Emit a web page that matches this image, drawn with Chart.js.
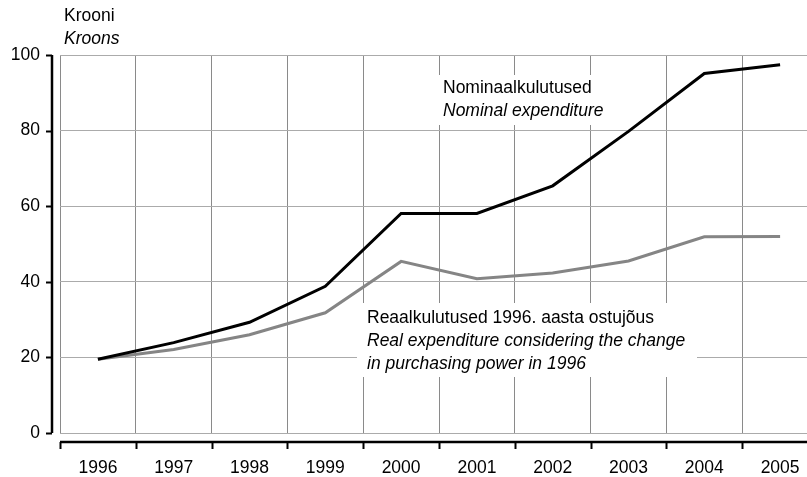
<!DOCTYPE html>
<html>
<head>
<meta charset="utf-8">
<script src="https://cdn.jsdelivr.net/npm/chart.js@4/dist/chart.umd.min.js"></script>
<style>
  html, body { margin: 0; padding: 0; background: #fff; overflow: hidden; }
  #wrap { width: 807px; height: 477px; overflow: hidden; }
</style>
</head>
<body>
<div id="wrap"><canvas id="graafik" width="840" height="477"></canvas></div>
<script>
// aastad ja kulutused (kroonides)
const aastad = ['1996', '1997', '1998', '1999', '2000', '2001', '2002', '2003', '2004', '2005'];
const nominaal = [19.5, 23.9, 29.3, 38.8, 58.1, 58.1, 65.4, 79.8, 95.1, 97.4];
const reaal = [19.5, 22.1, 26.0, 31.8, 45.4, 40.8, 42.3, 45.5, 51.9, 52.0];
const yTikid = [0, 20, 40, 60, 80, 100];

const FONT = '"Liberation Sans", Arial, sans-serif';
const SUURUS = 17.5;

// teljed, tiitel ja sildid
const lisad = {
  id: 'lisad',
  beforeDatasetsDraw(chart) {
    const ctx = chart.ctx;
    const ca = chart.chartArea;
    const xs = chart.scales.x, ys = chart.scales.y;
    ctx.save();

    // valged kastid siltide all
    ctx.fillStyle = '#fff';
    ctx.fillRect(437, 75, 170, 50);
    ctx.fillRect(357, 303, 340, 74);

    ctx.fillStyle = '#000';
    ctx.textBaseline = 'middle';
    ctx.textAlign = 'left';
    ctx.font = SUURUS + 'px ' + FONT;
    ctx.fillText('Nominaalkulutused', 443, 88);
    ctx.fillText('Reaalkulutused 1996. aasta ostujõus', 367, 318);
    ctx.font = 'italic ' + SUURUS + 'px ' + FONT;
    ctx.fillText('Nominal expenditure', 443, 111);
    ctx.fillText('Real expenditure considering the change', 367, 341);
    ctx.fillText('in purchasing power in 1996', 367, 364);
    ctx.restore();
  },
  afterDraw(chart) {
    const ctx = chart.ctx;
    const ca = chart.chartArea;
    const xs = chart.scales.x, ys = chart.scales.y;
    ctx.save();
    ctx.strokeStyle = '#000';

    // y-telg
    const yx = ca.left - 8;
    ctx.lineWidth = 2.5;
    ctx.beginPath();
    ctx.moveTo(yx, ys.getPixelForValue(100));
    ctx.lineTo(yx, ys.getPixelForValue(0));
    ctx.stroke();
    ctx.lineWidth = 2;
    for (let v of yTikid) {
      const p = Math.round(ys.getPixelForValue(v)) + 0.5;
      ctx.beginPath();
      ctx.moveTo(yx - 6, p);
      ctx.lineTo(yx, p);
      ctx.stroke();
    }

    // x-telg
    const xy = ca.bottom + 9;
    ctx.lineWidth = 2.5;
    ctx.beginPath();
    ctx.moveTo(ca.left, xy);
    ctx.lineTo(ca.right, xy);
    ctx.stroke();
    ctx.lineWidth = 2;
    const samm = xs.getPixelForValue(1) - xs.getPixelForValue(0);
    for (let i = 0; i <= aastad.length; i++) {
      const p = Math.round(xs.getPixelForValue(i) - samm / 2) + 0.5;
      ctx.beginPath();
      ctx.moveTo(p, xy);
      ctx.lineTo(p, xy + 7);
      ctx.stroke();
    }

    // yhikud
    ctx.fillStyle = '#000';
    ctx.textBaseline = 'middle';
    ctx.textAlign = 'left';
    ctx.font = SUURUS + 'px ' + FONT;
    ctx.fillText('Krooni', 64, 16);
    ctx.font = 'italic ' + SUURUS + 'px ' + FONT;
    ctx.fillText('Kroons', 64, 39);
    ctx.restore();
  }
};

new Chart(document.getElementById('graafik'), {
  type: 'line',
  data: {
    labels: aastad,
    datasets: [
      { label: 'Nominaalkulutused', data: nominaal, borderColor: '#000', borderWidth: 3, pointRadius: 0, tension: 0, fill: false },
      { label: 'Reaalkulutused', data: reaal, borderColor: '#858585', borderWidth: 3, pointRadius: 0, tension: 0, fill: false }
    ]
  },
  options: {
    responsive: false,
    animation: false,
    layout: { padding: { top: 55, right: 22, left: 0, bottom: 0 } },
    plugins: { legend: { display: false }, tooltip: { enabled: false } },
    scales: {
      x: {
        type: 'category',
        offset: true,
        grid: { offset: true, color: '#8a8a8a', lineWidth: 1, drawTicks: false },
        border: { display: false },
        ticks: { padding: 25, color: '#000', font: { family: FONT, size: SUURUS }, maxRotation: 0, autoSkip: false },
        afterFit(s) { s.height = 44; }
      },
      y: {
        min: 0,
        max: 100,
        grid: { color: '#ababab', lineWidth: 1, drawTicks: false },
        border: { display: false },
        ticks: { stepSize: 20, padding: 20, color: '#000', font: { family: FONT, size: SUURUS } },
        afterFit(s) { s.width = 60; }
      }
    }
  },
  plugins: [lisad]
});
</script>
</body>
</html>
